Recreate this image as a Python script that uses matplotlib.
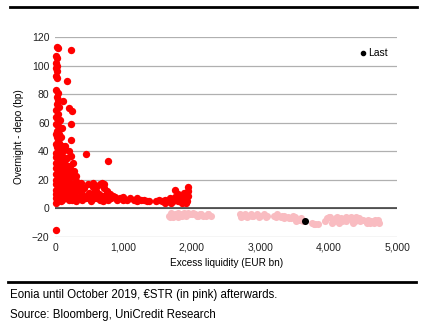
import numpy as np
import matplotlib.pyplot as plt
from matplotlib.lines import Line2D

plt.rcParams['font.family'] = ['Liberation Sans', 'DejaVu Sans']

# Eonia (red) points: excess liquidity (EUR bn), overnight - depo (bp)
eonia_x = [25, 40, 15, 30, 20, 35, 15, 30, 20, 35, 230, 170,
           20, 40, 25, 45, 110, 30, 55, 200, 250, 20, 40, 30, 60, 20, 45, 230, 70, 100,
           35, 55, 25, 40, 230, 60, 150, 30, 50, 20, 80, 200, 230, 450, 780, 110, 40, 140,
           260, 20, 60, 90, 170, 30, 120, 200, 50, 270, 80, 150, 20, 310, 100, 230, 40, 180,
           60, 300, 130, 380, 20, 250, 90, 480, 650, 170, 330, 40, 420, 560, 720, 230, 600,
           760, 100, 300, 500, 30, 170, 400, 640, 800, 60, 260, 540, 700, 880, 350, 120, 450,
           620, 950, 200, 780, 1000, 1100, 1050, 20, 20, 80, 300, 520, 700, 900, 1150, 1200,
           1250, 1300, 1350, 1380, 1200, 1000, 850, 740,
           1480, 1520, 1560, 1600, 1640, 1680, 1700, 1720, 1760, 1790, 1800, 1830, 1850, 1870,
           1900, 1910, 1930, 1950, 1950, 1750, 1940, 1600, 1700, 1850, 1920, 1880, 1800,
           10, 70, 120, 10, 170, 60, 100, 220, 10, 150, 250, 60, 130, 190, 10, 80, 160, 210,
           280, 350, 10, 70, 140, 200, 270, 10, 50, 100, 150, 250, 330, 400, 470, 580, 660,
           820, 10, 80, 140, 60, 100, 15, 80, 15, 70, 560, 610, 720, 760, 690, 590]
eonia_y = [113, 112, 107, 105, 102, 100, 98, 96, 93, 91, 111, 89,
           83, 81, 78, 76, 75, 73, 71, 70, 68, 69, 66, 63, 61, 59, 58, 59, 56, 56,
           54, 52, 50, 48, 48, 46, 44, 43, 41, 39, 39, 40, 37, 38, 33, 36, 35, 34,
           32, 32, 30, 31, 30, 28, 28, 27, 26, 26, 25, 24, 24, 23, 22, 22, 21, 20,
           19, 19, 18, 18, 17, 17, 16, 17, 17, 15, 15, 14, 14, 15, 14, 13, 12,
           12, 12, 12, 11, 11, 10, 10, 10, 10, 9, 9, 9, 9, 8, 8, 8, 7,
           7, 7, 6, 6, 6, 7, 6, 4, -15, 5, 5, 5, 5, 6, 6, 5,
           6, 6, 5, 5, 7, 8, 9, 8,
           5, 6, 5, 6, 5, 7, 6, 5, 8, 5, 7, 9, 6, 8,
           10, 7, 5, 12, 15, 13, 9, 4, 4, 4, 4, 11, 10,
           45, 42, 40, 36, 35, 33, 33, 30, 28, 29, 24, 23, 25, 23, 20, 19, 21, 18,
           16, 13, 13, 12, 13, 11, 11, 7, 6, 6, 7, 6, 7, 6, 8, 7, 6,
           7, 10, 14, 16, 36, 44, 52, 50, 64, 62, 18, 16, 17, 11, 18, 12]

# ESTR (pink) points
estr_x = [1660, 1700, 1730, 1760, 1790, 1820, 1850, 1880, 1910, 1940, 1970, 2000, 2050,
          2090, 2120, 2160, 2200, 2240, 2280, 2700, 2740, 2780, 2820, 2860, 2900, 2950,
          3000, 3050, 3100, 3200, 3250, 3300, 3350, 3400, 3450, 3500, 3550, 3600, 3620,
          3520, 3480, 3350, 3760, 3800, 3850, 3980, 4020, 4060, 4100, 4140, 4180, 4220,
          4260, 4300, 4340, 4380, 4420, 4460, 4500, 4540, 4580, 4620, 4660, 4700, 4740,
          4050, 4150, 3950, 4250, 4400,
          1680, 1740, 1800, 1860, 1920, 2010, 2070, 2140, 2230, 2720, 2800, 2880, 2980,
          3080, 3230, 3310, 3420, 3580, 3780, 4000, 4080, 4200, 4320, 4440, 4560, 4680,
          4120, 4360, 4600, 4720]
estr_y = [-5, -3, -6, -4, -3, -5, -4, -3, -4, -3, -4, -4, -4,
          -5, -4, -5, -5, -4, -5, -4, -5, -4, -5, -4, -5, -4,
          -5, -4, -5, -5, -4, -6, -5, -6, -7, -6, -8, -7, -9,
          -9, -5, -7, -10, -11, -11, -7, -6, -8, -7, -9, -7, -8,
          -9, -7, -8, -9, -8, -9, -8, -9, -8, -9, -10, -9, -10,
          -10, -10, -9, -6, -6,
          -6, -5, -6, -5, -5, -3, -5, -4, -4, -6, -6, -5, -6,
          -6, -6, -5, -7, -8, -11, -6, -9, -9, -6, -7, -10, -8,
          -6, -10, -10, -8]

last_x = [3650]
last_y = [-9]

fig = plt.figure(figsize=(4.27, 3.28), dpi=100)
ax = fig.add_axes([0.129, 0.2774, 0.801, 0.6096])

ax.scatter(estr_x, estr_y, s=26, color='#f9bcc1', linewidths=0, zorder=3, clip_on=False)
ax.scatter(eonia_x, eonia_y, s=28, color='#ff0000', linewidths=0, zorder=4, clip_on=False)
ax.scatter(last_x, last_y, s=26, color='black', linewidths=0, zorder=5)

ax.set_xlim(0, 5000)
ax.set_ylim(-20, 120)
ax.set_xticks(range(0, 5001, 1000))
ax.set_xticklabels(['0', '1,000', '2,000', '3,000', '4,000', '5,000'])
ax.set_yticks(range(-20, 121, 20))
for s in ax.spines.values():
    s.set_visible(False)
ax.tick_params(length=0, labelsize=7.5, colors='#222222', pad=4)
ax.grid(axis='y', color='#b0b0b0', linewidth=0.9, zorder=0)
ax.axhline(0, color='#333333', linewidth=1.1, zorder=1)
ax.set_axisbelow(True)

ax.set_xlabel('Excess liquidity (EUR bn)', fontsize=7.2, labelpad=4)
ax.set_ylabel('Overnight - depo (bp)', fontsize=7.2, labelpad=6)

handle = Line2D([], [], marker='o', color='black', linestyle='none', markersize=3)
ax.legend([handle], ['Last'], loc='upper right', bbox_to_anchor=(0.985, 0.965),
          frameon=False, fontsize=7.5, handletextpad=0.0, handlelength=1.0,
          borderaxespad=0)

fig.add_artist(Line2D([10/427, 417/427], [1 - 7/328, 1 - 7/328], color='black', linewidth=2))
fig.add_artist(Line2D([8/427, 416/427], [1 - 282/328, 1 - 282/328], color='black', linewidth=2))
fig.text(10/427, 1 - 295/328, 'Eonia until October 2019, €STR (in pink) afterwards.',
         fontsize=8.3, va='center', ha='left')
fig.text(10/427, 1 - 315/328, 'Source: Bloomberg, UniCredit Research',
         fontsize=8.3, va='center', ha='left')

fig.savefig('out.png', dpi=100)
